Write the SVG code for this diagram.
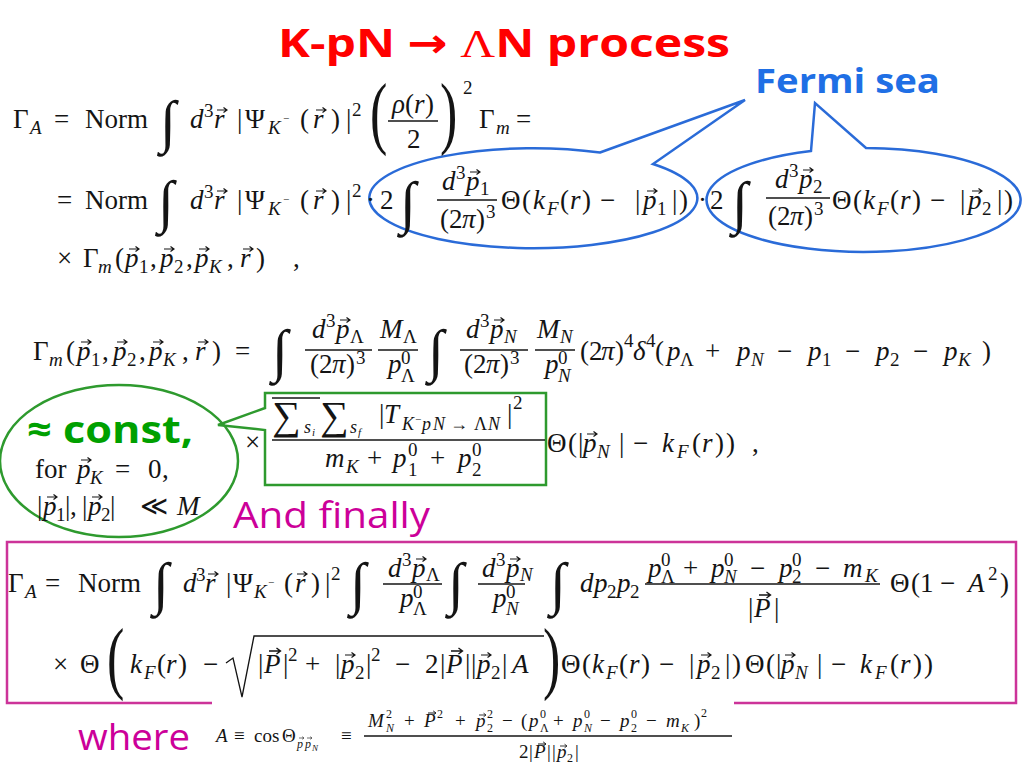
<svg xmlns="http://www.w3.org/2000/svg" width="1024" height="768" viewBox="0 0 1024 768">
<defs>
<style>
.m{font-family:"Liberation Serif","DejaVu Serif",serif;font-size:27px;fill:#141414}
.i{font-style:italic}
.b{font-size:19px}
.c{font-size:18px}
.d{font-size:11px}
.w{font-family:"Liberation Serif","DejaVu Serif",serif;font-size:19px;fill:#141414}
.ws{font-size:12px}
.wt{font-size:9px}
.int{font-family:"Liberation Serif","DejaVu Serif",serif;font-size:58px;fill:#141414}
.bp{font-family:"Liberation Serif","DejaVu Serif",serif;font-size:80px;fill:#141414}
.sum{font-family:"Liberation Serif","DejaVu Serif",serif;font-size:40px;fill:#141414}
.bar{stroke:#141414;stroke-width:1.3;fill:none}
.blue{fill:none;stroke:#2A6BD8;stroke-width:2.5}
.green{fill:none;stroke:#2E9A2E;stroke-width:2.5}
.mag{fill:none;stroke:#CC3399;stroke-width:2.5}
.comic{font-family:"Open Sans","Noto Sans","DejaVu Sans",sans-serif}
</style>
<path id="vec" d="M0,0 H9.5 M6.5,-2.6 L10,0 L6.5,2.6" stroke="#141414" stroke-width="1.2" fill="none"/>
</defs>
<rect width="1024" height="768" fill="#ffffff"/>

<g id="title">
<text class="comic" x="278" y="57" font-size="40" font-weight="bold" fill="#FF0000" textLength="452" lengthAdjust="spacingAndGlyphs">K-pN → <tspan font-family="Liberation Serif" font-weight="normal">Λ</tspan>N process</text>
</g>

<g id="fermi-sea-callout">
<path class="blue" d="M600,152.5 L745,100 L653,164 A164 50 0 1 1 600,152.5 Z"/>
<path class="blue" d="M811,151 L815,103 L866,148 A157 52 0 1 1 811,151 Z"/>
<text class="comic" x="755" y="93" font-size="34" font-weight="bold" fill="#1F6FE5" textLength="185" lengthAdjust="spacingAndGlyphs">Fermi sea</text>
</g>

<g id="eq1">
<text class="m"><tspan x="13" y="128">Γ</tspan><tspan class="i b" x="30" y="134">A</tspan><tspan x="54" y="128">=</tspan><tspan x="85" y="128">Norm</tspan><tspan class="i" x="190" y="128">d</tspan><tspan class="b" x="204" y="117">3</tspan><tspan class="i" x="214" y="128">r</tspan><tspan x="237" y="128">|</tspan><tspan x="245" y="128">Ψ</tspan><tspan class="i b" x="268" y="134">K</tspan><tspan class="d" x="283" y="122">−</tspan><tspan x="300" y="128">(</tspan><tspan class="i" x="313" y="128">r</tspan><tspan x="331" y="128">)</tspan><tspan x="346" y="128">|</tspan><tspan class="b" x="352" y="116">2</tspan><tspan class="i" x="392" y="113">ρ</tspan><tspan x="405" y="113">(</tspan><tspan class="i" x="414" y="113">r</tspan><tspan x="425" y="113">)</tspan><tspan x="407" y="148">2</tspan><tspan class="b" x="463" y="94">2</tspan><tspan x="479" y="128">Γ</tspan><tspan class="i b" x="496" y="134">m</tspan><tspan x="516" y="128">=</tspan></text>
<text class="int" x="160" y="141">∫</text>
<text class="bp" transform="translate(370,139) scale(0.65,1)">(</text>
<text class="bp" transform="translate(440,139) scale(0.65,1)">)</text>
<line class="bar" x1="388" y1="121" x2="438" y2="121"/>
<use href="#vec" x="217" y="110"/>
<use href="#vec" x="316" y="110"/>
</g>

<g id="eq2">
<text class="m"><tspan x="57" y="209">=</tspan><tspan x="85" y="209">Norm</tspan><tspan class="i" x="190" y="209">d</tspan><tspan class="b" x="204" y="198">3</tspan><tspan class="i" x="214" y="209">r</tspan><tspan x="237" y="209">|</tspan><tspan x="245" y="209">Ψ</tspan><tspan class="i b" x="268" y="215">K</tspan><tspan class="d" x="283" y="203">−</tspan><tspan x="300" y="209">(</tspan><tspan class="i" x="313" y="209">r</tspan><tspan x="331" y="209">)</tspan><tspan x="346" y="209">|</tspan><tspan class="b" x="352" y="197">2</tspan><tspan x="366" y="209">·</tspan><tspan x="380" y="209">2</tspan><tspan class="i" x="442" y="190">d</tspan><tspan class="b" x="456" y="179">3</tspan><tspan class="i" x="466" y="190">p</tspan><tspan class="b" x="480" y="195">1</tspan><tspan x="440" y="228">(</tspan><tspan x="449" y="228">2</tspan><tspan class="i" x="462" y="228">π</tspan><tspan x="476" y="228">)</tspan><tspan class="b" x="486" y="218">3</tspan><tspan x="501" y="209">Θ</tspan><tspan x="522" y="209">(</tspan><tspan class="i" x="533" y="209">k</tspan><tspan class="i b" x="547" y="215">F</tspan><tspan x="560" y="209">(</tspan><tspan class="i" x="570" y="209">r</tspan><tspan x="582" y="209">)</tspan><tspan x="600" y="209">−</tspan><tspan x="635" y="209">|</tspan><tspan class="i" x="643" y="209">p</tspan><tspan class="b" x="657" y="215">1</tspan><tspan x="672" y="209">|</tspan><tspan x="679" y="209">)</tspan><tspan x="698" y="209">·</tspan><tspan x="710" y="209">2</tspan><tspan class="i" x="775" y="188">d</tspan><tspan class="b" x="789" y="177">3</tspan><tspan class="i" x="799" y="188">p</tspan><tspan class="b" x="813" y="193">2</tspan><tspan x="768" y="225">(</tspan><tspan x="777" y="225">2</tspan><tspan class="i" x="790" y="225">π</tspan><tspan x="804" y="225">)</tspan><tspan class="b" x="814" y="215">3</tspan><tspan x="832" y="209">Θ</tspan><tspan x="853" y="209">(</tspan><tspan class="i" x="863" y="209">k</tspan><tspan class="i b" x="877" y="215">F</tspan><tspan x="890" y="209">(</tspan><tspan class="i" x="900" y="209">r</tspan><tspan x="912" y="209">)</tspan><tspan x="930" y="209">−</tspan><tspan x="960" y="209">|</tspan><tspan class="i" x="968" y="209">p</tspan><tspan class="b" x="982" y="215">2</tspan><tspan x="997" y="209">|</tspan><tspan x="1004" y="209">)</tspan></text>
<text class="int" x="158" y="221">∫</text>
<text class="int" x="400" y="222">∫</text>
<text class="int" x="732" y="222">∫</text>
<line class="bar" x1="437" y1="200" x2="497" y2="200"/>
<line class="bar" x1="766" y1="198" x2="830" y2="198"/>
<use href="#vec" x="217" y="191"/>
<use href="#vec" x="316" y="191"/>
<use href="#vec" x="470" y="172"/>
<use href="#vec" x="647" y="191"/>
<use href="#vec" x="803" y="170"/>
<use href="#vec" x="972" y="191"/>
</g>

<g id="eq3">
<text class="m"><tspan x="57" y="267">×</tspan><tspan x="83" y="267">Γ</tspan><tspan class="i b" x="98" y="273">m</tspan><tspan x="115" y="267">(</tspan><tspan class="i" x="125" y="267">p</tspan><tspan class="b" x="139" y="273">1</tspan><tspan x="150" y="267">,</tspan><tspan class="i" x="160" y="267">p</tspan><tspan class="b" x="174" y="273">2</tspan><tspan x="186" y="267">,</tspan><tspan class="i" x="195" y="267">p</tspan><tspan class="i b" x="209" y="273">K</tspan><tspan x="227" y="267">,</tspan><tspan class="i" x="240" y="267">r</tspan><tspan x="256" y="267">)</tspan><tspan x="293" y="267">,</tspan></text>
<use href="#vec" x="129" y="249"/>
<use href="#vec" x="164" y="249"/>
<use href="#vec" x="199" y="249"/>
<use href="#vec" x="243" y="249"/>
</g>

<g id="eq4">
<text class="m"><tspan x="33" y="360">Γ</tspan><tspan class="i b" x="49" y="366">m</tspan><tspan x="66" y="360">(</tspan><tspan class="i" x="77" y="360">p</tspan><tspan class="b" x="91" y="366">1</tspan><tspan x="102" y="360">,</tspan><tspan class="i" x="113" y="360">p</tspan><tspan class="b" x="127" y="366">2</tspan><tspan x="139" y="360">,</tspan><tspan class="i" x="149" y="360">p</tspan><tspan class="i b" x="163" y="366">K</tspan><tspan x="182" y="360">,</tspan><tspan class="i" x="195" y="360">r</tspan><tspan x="212" y="360">)</tspan><tspan x="235" y="360">=</tspan><tspan class="i" x="312" y="338">d</tspan><tspan class="b" x="326" y="327">3</tspan><tspan class="i" x="336" y="338">p</tspan><tspan class="b" x="350" y="343">Λ</tspan><tspan x="310" y="373">(</tspan><tspan x="319" y="373">2</tspan><tspan class="i" x="332" y="373">π</tspan><tspan x="346" y="373">)</tspan><tspan class="b" x="356" y="364">3</tspan><tspan class="i" x="380" y="338">M</tspan><tspan class="b" x="403" y="343">Λ</tspan><tspan class="i" x="388" y="373">p</tspan><tspan class="b" x="401" y="364">0</tspan><tspan class="b" x="401" y="382">Λ</tspan><tspan class="i" x="466" y="338">d</tspan><tspan class="b" x="480" y="327">3</tspan><tspan class="i" x="490" y="338">p</tspan><tspan class="i b" x="504" y="343">N</tspan><tspan x="464" y="373">(</tspan><tspan x="473" y="373">2</tspan><tspan class="i" x="486" y="373">π</tspan><tspan x="500" y="373">)</tspan><tspan class="b" x="510" y="364">3</tspan><tspan class="i" x="537" y="338">M</tspan><tspan class="i b" x="560" y="343">N</tspan><tspan class="i" x="545" y="373">p</tspan><tspan class="b" x="558" y="364">0</tspan><tspan class="i b" x="558" y="382">N</tspan><tspan x="580" y="360">(</tspan><tspan x="589" y="360">2</tspan><tspan class="i" x="601" y="360">π</tspan><tspan x="615" y="360">)</tspan><tspan class="b" x="624" y="347">4</tspan><tspan class="i" x="633" y="360">δ</tspan><tspan class="b" x="646" y="347">4</tspan><tspan x="655" y="360">(</tspan><tspan class="i" x="667" y="360">p</tspan><tspan class="b" x="680" y="366">Λ</tspan><tspan x="705" y="360">+</tspan><tspan class="i" x="737" y="360">p</tspan><tspan class="i b" x="751" y="366">N</tspan><tspan x="777" y="360">−</tspan><tspan class="i" x="808" y="360">p</tspan><tspan class="b" x="822" y="366">1</tspan><tspan x="845" y="360">−</tspan><tspan class="i" x="876" y="360">p</tspan><tspan class="b" x="890" y="366">2</tspan><tspan x="913" y="360">−</tspan><tspan class="i" x="944" y="360">p</tspan><tspan class="i b" x="958" y="366">K</tspan><tspan x="982" y="360">)</tspan></text>
<text class="int" x="272" y="370">∫</text>
<text class="int" x="428" y="370">∫</text>
<line class="bar" x1="305" y1="350" x2="372" y2="350"/>
<line class="bar" x1="378" y1="350" x2="418" y2="350"/>
<line class="bar" x1="460" y1="350" x2="528" y2="350"/>
<line class="bar" x1="535" y1="350" x2="575" y2="350"/>
<use href="#vec" x="81" y="342"/>
<use href="#vec" x="117" y="342"/>
<use href="#vec" x="153" y="342"/>
<use href="#vec" x="198" y="342"/>
<use href="#vec" x="340" y="320"/>
<use href="#vec" x="494" y="320"/>
</g>

<g id="eq5">
<path class="green" d="M265,393 H546 V485 H265 V430 L218,425 L265,408 Z"/>
<text class="m"><tspan x="245" y="451">×</tspan><tspan class="i c" x="304" y="433">s</tspan><tspan class="i d" x="312" y="436">i</tspan><tspan class="i c" x="350" y="433">s</tspan><tspan class="i d" x="358" y="436">f</tspan><tspan x="379" y="423">|</tspan><tspan class="i" x="384" y="423">T</tspan><tspan class="i c" x="402" y="430">K</tspan><tspan class="d" x="415" y="423">−</tspan><tspan class="i c" x="422" y="430">p</tspan><tspan class="i c" x="433" y="430">N</tspan><tspan class="c" x="450" y="430">→</tspan><tspan class="c" x="474" y="430">Λ</tspan><tspan class="i c" x="488" y="430">N</tspan><tspan x="507" y="423">|</tspan><tspan class="b" x="513" y="409">2</tspan><tspan class="i" x="325" y="467">m</tspan><tspan class="i b" x="346" y="473">K</tspan><tspan x="367" y="467">+</tspan><tspan class="i" x="393" y="467">p</tspan><tspan class="b" x="408" y="456">0</tspan><tspan class="b" x="408" y="476">1</tspan><tspan x="430" y="467">+</tspan><tspan class="i" x="458" y="467">p</tspan><tspan class="b" x="472" y="456">0</tspan><tspan class="b" x="472" y="476">2</tspan><tspan x="547" y="452">Θ</tspan><tspan x="568" y="452">(</tspan><tspan x="578" y="452">|</tspan><tspan class="i" x="583" y="452">p</tspan><tspan class="i b" x="597" y="458">N</tspan><tspan x="619" y="452">|</tspan><tspan x="633" y="452">−</tspan><tspan class="i" x="662" y="452">k</tspan><tspan class="i b" x="677" y="458">F</tspan><tspan x="692" y="452">(</tspan><tspan class="i" x="702" y="452">r</tspan><tspan x="715" y="452">)</tspan><tspan x="726" y="452">)</tspan><tspan x="752" y="452">,</tspan></text>
<text class="sum" x="272" y="429">∑</text>
<text class="sum" x="320" y="429">∑</text>
<line class="bar" x1="272" y1="398" x2="320" y2="398"/>
<line class="bar" x1="272" y1="440" x2="545" y2="440"/>
<use href="#vec" x="587" y="434"/>
</g>

<g id="const-note">
<ellipse class="green" cx="119" cy="461" rx="119" ry="76"/>
<text class="comic" x="27" y="443" font-size="38" font-weight="bold" fill="#00A000" textLength="166" lengthAdjust="spacingAndGlyphs">≈ const,</text>
<text class="m"><tspan x="35" y="478">for</tspan><tspan class="i" x="77" y="478">p</tspan><tspan class="i b" x="90" y="484">K</tspan><tspan x="115" y="478">=</tspan><tspan x="148" y="478">0</tspan><tspan x="162" y="478">,</tspan><tspan x="37" y="515">|</tspan><tspan class="i" x="43" y="515">p</tspan><tspan class="b" x="56" y="521">1</tspan><tspan x="65" y="515">|</tspan><tspan x="70" y="515">,</tspan><tspan x="82" y="515">|</tspan><tspan class="i" x="88" y="515">p</tspan><tspan class="b" x="101" y="521">2</tspan><tspan x="110" y="515">|</tspan><tspan x="140" y="515">≪</tspan><tspan class="i" x="177" y="515">M</tspan></text>
<use href="#vec" x="81" y="460"/>
<use href="#vec" x="47" y="497"/>
<use href="#vec" x="92" y="497"/>
</g>

<g id="and-finally">
<text class="comic" x="233" y="528" font-size="36" fill="#CC0099" textLength="197" lengthAdjust="spacingAndGlyphs">And finally</text>
</g>

<g id="final-box">
<path class="mag" d="M212,703 H7 V542 H1016 V703 H734"/>
<text class="m"><tspan x="8" y="592">Γ</tspan><tspan class="i b" x="25" y="598">A</tspan><tspan x="45" y="592">=</tspan><tspan x="78" y="592">Norm</tspan><tspan class="i" x="183" y="592">d</tspan><tspan class="b" x="196" y="581">3</tspan><tspan class="i" x="205" y="592">r</tspan><tspan x="226" y="592">|</tspan><tspan x="233" y="592">Ψ</tspan><tspan class="i b" x="254" y="598">K</tspan><tspan class="d" x="268" y="586">−</tspan><tspan x="284" y="592">(</tspan><tspan class="i" x="295" y="592">r</tspan><tspan x="311" y="592">)</tspan><tspan x="325" y="592">|</tspan><tspan class="b" x="331" y="580">2</tspan><tspan class="i" x="388" y="577">d</tspan><tspan class="b" x="402" y="566">3</tspan><tspan class="i" x="412" y="577">p</tspan><tspan class="b" x="426" y="581">Λ</tspan><tspan class="i" x="400" y="607">p</tspan><tspan class="b" x="413" y="598">0</tspan><tspan class="b" x="413" y="615">Λ</tspan><tspan class="i" x="482" y="577">d</tspan><tspan class="b" x="496" y="566">3</tspan><tspan class="i" x="506" y="577">p</tspan><tspan class="i b" x="520" y="581">N</tspan><tspan class="i" x="493" y="607">p</tspan><tspan class="b" x="506" y="598">0</tspan><tspan class="i b" x="506" y="615">N</tspan><tspan class="i" x="580" y="592">d</tspan><tspan class="i" x="594" y="592">p</tspan><tspan class="b" x="607" y="598">2</tspan><tspan class="i" x="617" y="592">p</tspan><tspan class="b" x="630" y="598">2</tspan><tspan class="i" x="648" y="577">p</tspan><tspan class="b" x="661" y="566">0</tspan><tspan class="b" x="661" y="583">Λ</tspan><tspan x="683" y="577">+</tspan><tspan class="i" x="711" y="577">p</tspan><tspan class="b" x="724" y="566">0</tspan><tspan class="i b" x="724" y="583">N</tspan><tspan x="750" y="577">−</tspan><tspan class="i" x="779" y="577">p</tspan><tspan class="b" x="792" y="566">0</tspan><tspan class="b" x="792" y="583">2</tspan><tspan x="815" y="577">−</tspan><tspan class="i" x="843" y="577">m</tspan><tspan class="i b" x="865" y="582">K</tspan><tspan x="748" y="617">|</tspan><tspan class="i" x="754" y="617">P</tspan><tspan x="774" y="617">|</tspan><tspan x="890" y="592">Θ</tspan><tspan x="911" y="592">(</tspan><tspan x="920" y="592">1</tspan><tspan x="940" y="592">−</tspan><tspan class="i" x="968" y="592">A</tspan><tspan class="b" x="988" y="580">2</tspan><tspan x="1000" y="592">)</tspan></text>
<text class="int" x="153" y="603">∫</text>
<text class="int" x="350" y="603">∫</text>
<text class="int" x="448" y="603">∫</text>
<text class="int" x="550" y="603">∫</text>
<line class="bar" x1="383" y1="584" x2="442" y2="584"/>
<line class="bar" x1="478" y1="584" x2="525" y2="584"/>
<line class="bar" x1="645" y1="584" x2="880" y2="584"/>
<use href="#vec" x="208" y="574"/>
<use href="#vec" x="297" y="574"/>
<use href="#vec" x="416" y="559"/>
<use href="#vec" x="510" y="559"/>
<use href="#vec" transform="translate(759,595) scale(1.15)"/>
<text class="m"><tspan x="53" y="673">×</tspan><tspan x="80" y="673">Θ</tspan><tspan class="i" x="130" y="673">k</tspan><tspan class="i b" x="144" y="679">F</tspan><tspan x="157" y="673">(</tspan><tspan class="i" x="166" y="673">r</tspan><tspan x="178" y="673">)</tspan><tspan x="203" y="673">−</tspan><tspan x="258" y="673">|</tspan><tspan class="i" x="264" y="673">P</tspan><tspan x="283" y="673">|</tspan><tspan class="b" x="288" y="661">2</tspan><tspan x="305" y="673">+</tspan><tspan x="335" y="673">|</tspan><tspan class="i" x="341" y="673">p</tspan><tspan class="b" x="355" y="679">2</tspan><tspan x="366" y="673">|</tspan><tspan class="b" x="371" y="661">2</tspan><tspan x="395" y="673">−</tspan><tspan x="425" y="673">2</tspan><tspan x="440" y="673">|</tspan><tspan class="i" x="446" y="673">P</tspan><tspan x="465" y="673">|</tspan><tspan x="471" y="673">|</tspan><tspan class="i" x="477" y="673">p</tspan><tspan class="b" x="491" y="679">2</tspan><tspan x="502" y="673">|</tspan><tspan class="i" x="512" y="673">A</tspan><tspan x="561" y="673">Θ</tspan><tspan x="582" y="673">(</tspan><tspan class="i" x="592" y="673">k</tspan><tspan class="i b" x="606" y="679">F</tspan><tspan x="619" y="673">(</tspan><tspan class="i" x="629" y="673">r</tspan><tspan x="641" y="673">)</tspan><tspan x="659" y="673">−</tspan><tspan x="689" y="673">|</tspan><tspan class="i" x="697" y="673">p</tspan><tspan class="b" x="711" y="679">2</tspan><tspan x="725" y="673">|</tspan><tspan x="732" y="673">)</tspan><tspan x="745" y="673">Θ</tspan><tspan x="766" y="673">(</tspan><tspan x="776" y="673">|</tspan><tspan class="i" x="781" y="673">p</tspan><tspan class="i b" x="795" y="679">N</tspan><tspan x="817" y="673">|</tspan><tspan x="831" y="673">−</tspan><tspan class="i" x="860" y="673">k</tspan><tspan class="i b" x="875" y="679">F</tspan><tspan x="890" y="673">(</tspan><tspan class="i" x="900" y="673">r</tspan><tspan x="913" y="673">)</tspan><tspan x="924" y="673">)</tspan></text>
<text class="bp" transform="translate(107,684) scale(0.65,1)">(</text>
<text class="bp" transform="translate(543,684) scale(0.65,1)">)</text>
<path class="bar" d="M226,663 L233,658 L242,697 L254,636 L544,636"/>
<use href="#vec" transform="translate(269,651) scale(1.15)"/>
<use href="#vec" x="345" y="655"/>
<use href="#vec" transform="translate(451,651) scale(1.15)"/>
<use href="#vec" x="481" y="655"/>
<use href="#vec" x="701" y="655"/>
<use href="#vec" x="785" y="655"/>
</g>

<g id="where">
<text class="comic" x="78" y="750" font-size="36" fill="#CC0099" textLength="112" lengthAdjust="spacingAndGlyphs">where</text>
<text class="w"><tspan class="i" x="216" y="742">A</tspan><tspan x="234" y="742">≡</tspan><tspan x="254" y="742">cos</tspan><tspan x="282" y="742">Θ</tspan><tspan class="i ws" x="297" y="748">p</tspan><tspan class="i ws" x="305" y="748">p</tspan><tspan class="i wt" x="312" y="751">N</tspan><tspan x="341" y="742">≡</tspan><tspan class="i" x="368" y="727">M</tspan><tspan class="ws" x="386" y="718">2</tspan><tspan class="i ws" x="386" y="732">N</tspan><tspan x="404" y="727">+</tspan><tspan class="i" x="424" y="727">P</tspan><tspan class="ws" x="437" y="718">2</tspan><tspan x="455" y="727">+</tspan><tspan class="i" x="476" y="727">p</tspan><tspan class="ws" x="487" y="718">2</tspan><tspan class="ws" x="487" y="732">2</tspan><tspan x="502" y="727">−</tspan><tspan x="521" y="727">(</tspan><tspan class="i" x="529" y="727">p</tspan><tspan class="ws" x="540" y="718">0</tspan><tspan class="ws" x="540" y="732">Λ</tspan><tspan x="553" y="727">+</tspan><tspan class="i" x="573" y="727">p</tspan><tspan class="ws" x="584" y="718">0</tspan><tspan class="i ws" x="584" y="732">N</tspan><tspan x="600" y="727">−</tspan><tspan class="i" x="620" y="727">p</tspan><tspan class="ws" x="631" y="718">0</tspan><tspan class="ws" x="631" y="732">2</tspan><tspan x="646" y="727">−</tspan><tspan class="i" x="666" y="727">m</tspan><tspan class="i ws" x="681" y="732">K</tspan><tspan x="694" y="727">)</tspan><tspan class="ws" x="701" y="717">2</tspan><tspan x="519" y="758">2</tspan><tspan x="529" y="758">|</tspan><tspan class="i" x="534" y="758">P</tspan><tspan x="547" y="758">|</tspan><tspan x="552" y="758">|</tspan><tspan class="i" x="557" y="758">p</tspan><tspan class="ws" x="567" y="762">2</tspan><tspan x="575" y="758">|</tspan></text>
<line class="bar" x1="364" y1="736" x2="732" y2="736"/>
<use href="#vec" transform="translate(299,738) scale(0.5)"/>
<use href="#vec" transform="translate(307,738) scale(0.5)"/>
<use href="#vec" transform="translate(428,713) scale(0.8)"/>
<use href="#vec" transform="translate(479,715) scale(0.7)"/>
<use href="#vec" transform="translate(538,744) scale(0.8)"/>
<use href="#vec" transform="translate(560,746) scale(0.7)"/>
</g>
</svg>
